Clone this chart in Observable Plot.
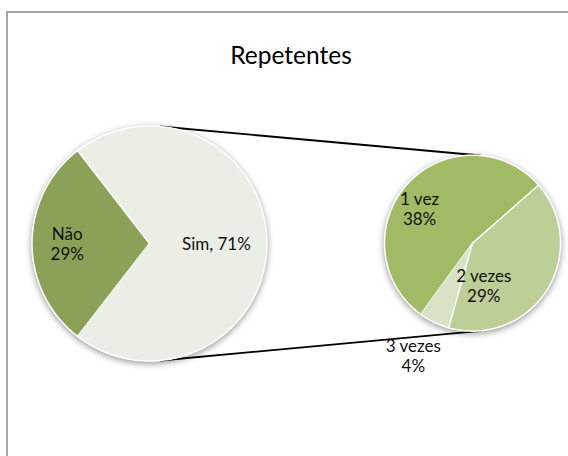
<!DOCTYPE html>
<html><head><meta charset="utf-8">
<script src="https://cdn.jsdelivr.net/npm/d3@7"></script>
<script src="https://cdn.jsdelivr.net/npm/@observablehq/plot@0.6"></script>
<style>
html,body{margin:0;padding:0;overflow:hidden;background:#fff}
body{width:568px;height:456px;position:relative;font-family:Lato,sans-serif}
#frame{position:absolute;left:6px;top:11px;width:562px;height:445px;border-top:2px solid #a6a6a6;border-left:2px solid #a6a6a6;box-sizing:border-box}
#title{position:relative;height:90px;width:582px;text-align:center;font-size:24.5px;line-height:29px;padding-top:40px;box-sizing:border-box;color:#000}
#chart{position:relative}
#chart svg g[aria-label="line"]{filter:drop-shadow(0 2px 3px rgba(0,0,0,0.4))}
</style></head><body>
<div id="frame"></div>
<div id="title">Repetentes</div>
<div id="chart"></div>
<script>
// ---- data ----
const mainCategories = ["Não", "Sim"];
const mainValues = [29, 71];
const detailCategories = ["1 vez", "2 vezes", "3 vezes"];
const detailValues = [38, 29, 4];
const mainColors = ["#8ba157", "#ebeee4"];
const detailColors = ["#a1ba65", "#bbcf96", "#d8e2c7"];

// ---- layout (units: main pie radius = 1) ----
const W = 568, H = 366;
const unitPx = 117.5;            // main radius in px
const mainCenterPx = [149, 153]; // within svg
const C1 = [0, 0], R1 = 1;
const C2 = [2.749, 0.003], R2 = 0.749;
const detailStartDeg = 216;
// label placement: [angle shift in degrees, radius fraction, single line]
const mainLabelPlace = [[0, 0.70, false], [0, 0.57, true]];
const detailLabelPlace = [[-9, 0.72, false], [43, 0.50, false], [2, 1.44, false]];

const rad = d => d * Math.PI / 180;
const polar = (c, r, a) => [c[0] + r * Math.sin(a), c[1] + r * Math.cos(a)];

function slices(cats, vals, cols, center, r, start, place) {
  const arcs = d3.pie().value(d => d).sort(null).startAngle(start).endAngle(start + 2 * Math.PI)(vals);
  const pts = [], labels = [];
  arcs.forEach((a, i) => {
    const name = cats[i];
    pts.push({name, fill: cols[i], x: center[0], y: center[1]});
    const n = Math.max(4, Math.ceil((a.endAngle - a.startAngle) / rad(1)));
    for (let k = 0; k <= n; k++) {
      const t = a.startAngle + (a.endAngle - a.startAngle) * k / n;
      const [x, y] = polar(center, r, t);
      pts.push({name, fill: cols[i], x, y});
    }
    const [shift, f, single] = place[i];
    const mid = (a.startAngle + a.endAngle) / 2 + rad(shift);
    const [lx, ly] = polar(center, r * f, mid);
    labels.push({x: lx, y: ly, text: single ? `${name}, ${vals[i]}%` : `${name}\n${vals[i]}%`});
  });
  return {pts, labels};
}

const mainTotal = d3.sum(mainValues);
const mainStart = 1.5 * Math.PI - (mainValues[0] / mainTotal) * Math.PI;
const A = slices(mainCategories, mainValues, mainColors, C1, R1, mainStart, mainLabelPlace);
const B = slices(detailCategories, detailValues, detailColors, C2, R2, rad(detailStartDeg), detailLabelPlace);

// external tangent lines between the two circles
const dx = C2[0] - C1[0], dy = C2[1] - C1[1];
const d = Math.hypot(dx, dy);
const base = Math.atan2(dx, dy); // compass angle of center line
const th = Math.acos((R1 - R2) / d);
const links = [base - th, base + th].map(a => {
  const p = polar(C1, R1, a), q = polar(C2, R2, a);
  return {x1: p[0], y1: p[1], x2: q[0], y2: q[1]};
});

const xDomain = [-mainCenterPx[0] / unitPx, (W - mainCenterPx[0]) / unitPx];
const yDomain = [-(H - mainCenterPx[1]) / unitPx, mainCenterPx[1] / unitPx];

const chart = Plot.plot({
  width: W, height: H,
  margin: 0,
  x: {domain: xDomain, axis: null},
  y: {domain: yDomain, axis: null},
  color: {type: "identity"},
  style: {fontFamily: "Lato, sans-serif", background: "transparent", overflow: "visible"},
  marks: [
    Plot.link(links, {x1: "x1", y1: "y1", x2: "x2", y2: "y2", stroke: "#000", strokeWidth: 1.8}),
    Plot.line([...A.pts, ...B.pts], {x: "x", y: "y", z: "name", fill: "fill", stroke: "#fff", strokeWidth: 1.5, strokeLinejoin: "round"}),
    Plot.text([...A.labels, ...B.labels], {x: "x", y: "y", text: "text", fontSize: 17, lineHeight: 1.18, fill: "#111"})
  ]
});
document.getElementById("chart").appendChild(chart);
</script>
</body></html>
